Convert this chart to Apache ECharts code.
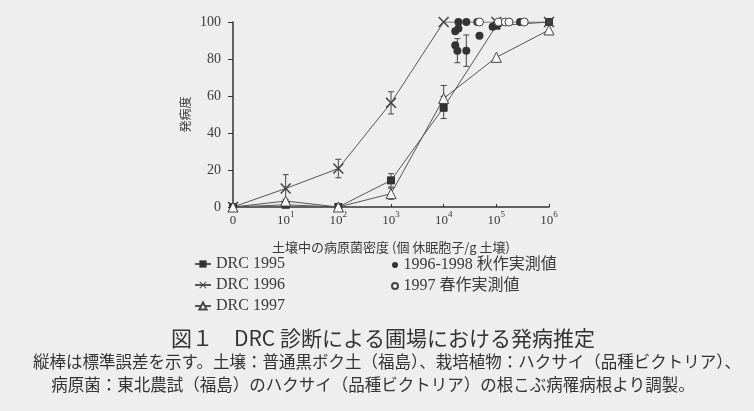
<!DOCTYPE html>
<html lang="ja">
<head>
<meta charset="UTF-8">
<title>図1 DRC診断による圃場における発病推定</title>
<script src="https://cdn.jsdelivr.net/npm/echarts@6/dist/echarts.min.js"></script>
<style>
  html, body { margin: 0; padding: 0; background: #eeeeee; }
  #main { width: 754px; height: 411px; }
</style>
</head>
<body>
<div id="main"></div>
<script>
// 横軸: 病原菌密度の桁 (0 は「0」, 1 は 10^1 ...)
var decades = [0, 1, 2, 3, 4, 5, 6];
var tickBase = ['0', '10', '10', '10', '10', '10', '10'];
var tickExp = ['', '1', '2', '3', '4', '5', '6'];

// DRC 曲線 (発病度) と標準誤差
var drc1995 = [0, 1.2, 0, 14.4, 53.8, 98, 100];
var drc1996 = [0, 10, 20.8, 56.3, 100, 100, 100];
var drc1997 = [0, 3.2, 0, 7.2, 58.7, 80.9, 95.7];
var se1995 = [0, 0, 0, 3.6, 6, 0, 0];
var se1996 = [0, 7.5, 5, 6, 0, 0, 0];
var se1997 = [0, 1, 0, 3, 7, 0, 0];

// 1996-1998 秋作実測値 (x は log10 密度)
var autumnX = [4.28, 4.43, 4.64, 4.28, 4.22, 4.68, 4.22, 4.26, 4.43, 4.93, 5.45];
var autumnY = [100, 100, 100, 96.5, 95, 92.6, 87.5, 84.5, 84.5, 97.5, 100];
var autumnSE = [0, 0, 0, 0, 0, 0, 0, 6.5, 8.5, 0, 0];

// 1997 春作実測値
var springX = [4.68, 5.04, 5.17, 5.24, 5.53];
var springY = [100, 100, 100, 100, 100];

var serif = '"Liberation Serif", "DejaVu Serif", serif';
var jp = '"Noto Sans CJK JP", sans-serif';
var ink = '#3a3a3a';

function pairs(xs, ys) {
    return xs.map(function (x, i) { return [x, ys[i]]; });
}
function bars(xs, ys, se) {
    var out = [];
    for (var i = 0; i < xs.length; i++) {
        if (se[i] > 0) out.push([xs[i], ys[i] - se[i], ys[i] + se[i]]);
    }
    return out;
}

var errData = [].concat(
    bars(decades, drc1995, se1995),
    bars(decades, drc1996, se1996),
    bars(decades, drc1997, se1997),
    bars(autumnX, autumnY, autumnSE)
);

var crossPath = 'path://M0,1L1,0L5,4L9,0L10,1L6,5L10,9L9,10L5,6L1,10L0,9L4,5Z';

var myChart = echarts.init(document.getElementById('main'));
myChart.setOption({
    animation: false,
    backgroundColor: '#eeeeee',
    grid: { left: 233, right: 205, top: 22, bottom: 204 },
    xAxis: {
        type: 'value',
        min: 0, max: 6, interval: 1,
        name: '土壌中の病原菌密度 (個 休眠胞子/g 土壌)',
        nameLocation: 'middle',
        nameGap: 34,
        nameTextStyle: { fontFamily: jp, fontSize: 13, color: ink },
        axisLine: { lineStyle: { color: '#333', width: 1.5 } },
        axisTick: { inside: true, length: 3, lineStyle: { color: '#333' } },
        splitLine: { show: false },
        axisLabel: {
            margin: 3,
            color: ink,
            formatter: function (v) {
                var i = decades.indexOf(v);
                if (i < 0) return '';
                return '{b|' + tickBase[i] + '}' + (tickExp[i] ? '{s|' + tickExp[i] + '}' : '');
            },
            rich: {
                b: { fontFamily: serif, fontSize: 13, lineHeight: 17, verticalAlign: 'bottom', color: ink },
                s: { fontFamily: serif, fontSize: 9, lineHeight: 10, verticalAlign: 'top', color: ink }
            }
        }
    },
    yAxis: {
        type: 'value',
        min: 0, max: 100, interval: 20,
        name: '発病度',
        nameLocation: 'middle',
        nameRotate: 90,
        nameGap: 42,
        nameTextStyle: { fontFamily: jp, fontSize: 12, color: ink },
        axisLine: { show: true, lineStyle: { color: '#333', width: 1.5 } },
        axisTick: { show: true, length: 5, lineStyle: { color: '#333' } },
        splitLine: { show: false },
        axisLabel: { margin: 12, fontFamily: serif, fontSize: 14, color: ink }
    },
    legend: [{
        data: ['DRC 1995', 'DRC 1996', 'DRC 1997'],
        orient: 'vertical',
        left: 189, top: 251,
        itemWidth: 16, itemHeight: 9,
        itemGap: 5, itemTextGap: 8,
        textStyle: { fontFamily: serif, fontSize: 16, color: ink }
    }, {
        data: ['1996-1998 秋作実測値', '1997 春作実測値'],
        orient: 'vertical',
        left: 386, top: 252,
        itemWidth: 7, itemHeight: 6,
        itemGap: 5, itemTextGap: 6,
        textStyle: { fontFamily: serif + ', ' + jp, fontSize: 16, color: ink }
    }],
    graphic: [{
        type: 'text', x: 383, y: 338,
        style: { text: '図１　DRC 診断による圃場における発病推定', font: '21px ' + jp, fill: '#333', align: 'center', verticalAlign: 'middle' }
    }, {
        type: 'text', x: 387, y: 362,
        style: { text: '縦棒は標準誤差を示す。土壌：普通黒ボク土（福島）、栽培植物：ハクサイ（品種ビクトリア）、', font: '16.5px ' + jp, fill: '#333', align: 'center', verticalAlign: 'middle' }
    }, {
        type: 'text', x: 373, y: 385,
        style: { text: '病原菌：東北農試（福島）のハクサイ（品種ビクトリア）の根こぶ病罹病根より調製。', font: '16.5px ' + jp, fill: '#333', align: 'center', verticalAlign: 'middle' }
    }],
    series: [{
        type: 'custom',
        name: 'SE',
        z: 1,
        data: errData,
        renderItem: function (params, api) {
            var x = api.value(0);
            var lo = api.coord([x, api.value(1)]);
            var hi = api.coord([x, api.value(2)]);
            var st = { stroke: '#444', lineWidth: 1 };
            return {
                type: 'group',
                children: [
                    { type: 'line', shape: { x1: lo[0], y1: lo[1], x2: hi[0], y2: hi[1] }, style: st },
                    { type: 'line', shape: { x1: lo[0] - 3, y1: lo[1], x2: lo[0] + 3, y2: lo[1] }, style: st },
                    { type: 'line', shape: { x1: hi[0] - 3, y1: hi[1], x2: hi[0] + 3, y2: hi[1] }, style: st }
                ]
            };
        }
    }, {
        name: 'DRC 1995',
        type: 'line',
        z: 3,
        data: pairs(decades, drc1995),
        symbol: 'rect', symbolSize: 8,
        lineStyle: { color: '#555', width: 1 },
        itemStyle: { color: '#333' }
    }, {
        name: 'DRC 1996',
        type: 'line',
        z: 3,
        data: pairs(decades, drc1996),
        symbol: crossPath, symbolSize: 11,
        lineStyle: { color: '#555', width: 1 },
        itemStyle: { color: '#444' }
    }, {
        name: 'DRC 1997',
        type: 'line',
        z: 3,
        data: pairs(decades, drc1997),
        symbol: 'triangle', symbolSize: 10,
        lineStyle: { color: '#555', width: 1 },
        itemStyle: { color: '#fafafa', borderColor: '#444', borderWidth: 1 }
    }, {
        name: '1996-1998 秋作実測値',
        type: 'scatter',
        z: 4,
        data: pairs(autumnX, autumnY),
        symbol: 'circle', symbolSize: 8,
        itemStyle: { color: '#333', opacity: 1 }
    }, {
        name: '1997 春作実測値',
        type: 'scatter',
        z: 4,
        data: pairs(springX, springY),
        symbol: 'circle', symbolSize: 8,
        itemStyle: { color: '#fafafa', borderColor: '#444', borderWidth: 1, opacity: 1 }
    }]
});
</script>
</body>
</html>
